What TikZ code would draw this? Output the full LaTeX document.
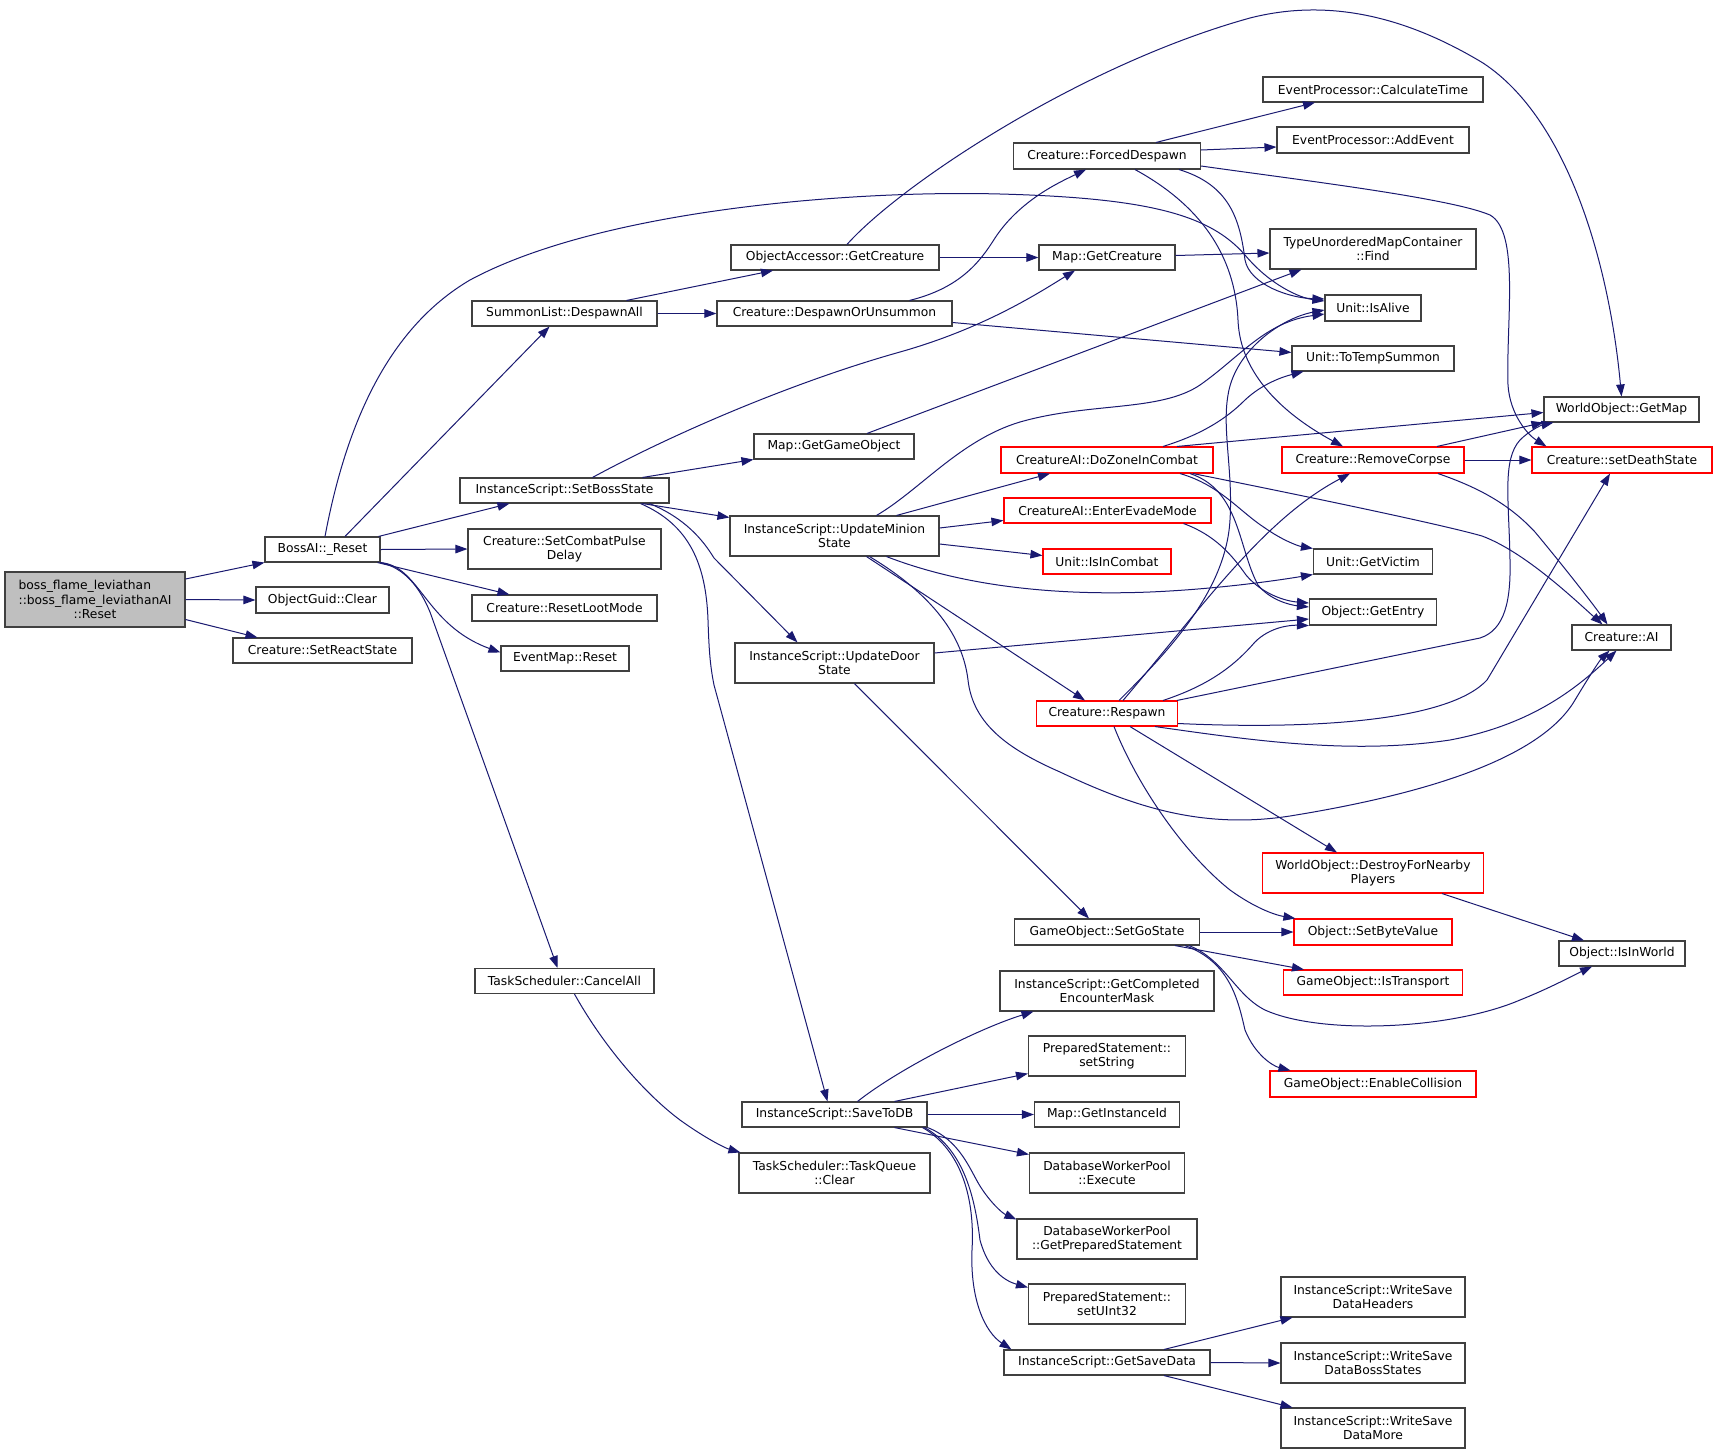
\documentclass[tikz,border=0pt]{standalone}
\usepackage{fontspec}
\setmainfont{DejaVu Sans}
\usepackage{calc}
\usetikzlibrary{arrows.meta}
\definecolor{edgec}{HTML}{191970}
\definecolor{boxc}{HTML}{404040}
\definecolor{mainfill}{HTML}{BFBFBF}
\newcommand\dgfont{\fontsize{12.3}{14.5}\selectfont}
\tikzset{
  box/.style={draw=boxc, line width=1.1pt, fill=white, inner sep=0pt, align=center, font=\dgfont},
  rbox/.style={box, draw=red},
  e/.style={draw=edgec, line width=1pt, -{Triangle[length=12pt,width=8.5pt]}},
}
\begin{document}
\begin{tikzpicture}[x=1pt,y=-1pt]
\useasboundingbox (0,0) rectangle (1717,1454);
\fill[white] (0,0) rectangle (1717,1454);
% column 1
\node[box,minimum width=180pt,minimum height=55pt,fill=mainfill] (main) at (95,599.5) {\makebox[\widthof{::boss\_flame\_leviathanAI}][l]{boss\_flame\_leviathan}\\::boss\_flame\_leviathanAI\\::Reset};
% column 2
\node[box,minimum width=115pt,minimum height=25pt] (reset) at (322.5,549.5) {BossAI::\_Reset};
\node[box,minimum width=133pt,minimum height=26pt] (guid) at (322.5,600) {ObjectGuid::Clear};
\node[box,minimum width=179pt,minimum height=25pt] (react) at (322.5,650.5) {Creature::SetReactState};
% column 3
\node[box,minimum width=185pt,minimum height=25pt] (despawnall) at (564.5,313.5) {SummonList::DespawnAll};
\node[box,minimum width=209pt,minimum height=25pt] (setboss) at (564.5,490.5) {InstanceScript::SetBossState};
\node[box,minimum width=193pt,minimum height=40pt] (pulse) at (564.5,549) {Creature::SetCombatPulse\\Delay};
\node[box,minimum width=185pt,minimum height=26pt] (loot) at (564.5,608) {Creature::ResetLootMode};
\node[box,minimum width=128pt,minimum height=25pt] (evmap) at (565,658.5) {EventMap::Reset};
\node[box,minimum width=179pt,minimum height=25pt] (cancel) at (564.5,981) {TaskScheduler::CancelAll};
% column 4
\node[box,minimum width=208pt,minimum height=25pt] (oagetc) at (835,257.5) {ObjectAccessor::GetCreature};
\node[box,minimum width=235pt,minimum height=25pt] (despunsum) at (834.5,313.5) {Creature::DespawnOrUnsummon};
\node[box,minimum width=160pt,minimum height=25pt] (getgo) at (834,446.5) {Map::GetGameObject};
\node[box,minimum width=209pt,minimum height=40pt] (minion) at (834.5,536) {InstanceScript::UpdateMinion\\State};
\node[box,minimum width=199pt,minimum height=40pt] (door) at (834.5,663) {InstanceScript::UpdateDoor\\State};
\node[box,minimum width=185pt,minimum height=25pt] (savedb) at (834.5,1114.5) {InstanceScript::SaveToDB};
\node[box,minimum width=191pt,minimum height=40pt] (tqclear) at (834.5,1173) {TaskScheduler::TaskQueue\\::Clear};
% column 5
\node[box,minimum width=187pt,minimum height=26pt] (forced) at (1107,156) {Creature::ForcedDespawn};
\node[box,minimum width=136pt,minimum height=25pt] (mapgetc) at (1107,257.5) {Map::GetCreature};
\node[rbox,minimum width=212pt,minimum height=26pt] (zone) at (1107,460) {CreatureAI::DoZoneInCombat};
\node[rbox,minimum width=207pt,minimum height=25pt] (evade) at (1107.5,510.5) {CreatureAI::EnterEvadeMode};
\node[rbox,minimum width=128pt,minimum height=25pt] (incombat) at (1107,561.5) {Unit::IsInCombat};
\node[rbox,minimum width=141pt,minimum height=25pt] (respawn) at (1107,713.5) {Creature::Respawn};
\node[box,minimum width=185pt,minimum height=26pt] (setgo) at (1107,932) {GameObject::SetGoState};
\node[box,minimum width=214pt,minimum height=40pt] (compl) at (1107,991) {InstanceScript::GetCompleted\\EncounterMask};
\node[box,minimum width=157pt,minimum height=40pt] (setstr) at (1107,1056) {PreparedStatement::\\setString};
\node[box,minimum width=145pt,minimum height=25pt] (instid) at (1107,1114.5) {Map::GetInstanceId};
\node[box,minimum width=155pt,minimum height=40pt] (exec) at (1107,1173) {DatabaseWorkerPool\\::Execute};
\node[box,minimum width=180pt,minimum height=40pt] (getprep) at (1107,1239) {DatabaseWorkerPool\\::GetPreparedStatement};
\node[box,minimum width=157pt,minimum height=40pt] (setuint) at (1107,1304) {PreparedStatement::\\setUInt32};
\node[box,minimum width=206pt,minimum height=25pt] (getsave) at (1107,1362.5) {InstanceScript::GetSaveData};
% column 6
\node[box,minimum width=220pt,minimum height=25pt] (calc) at (1373,89.5) {EventProcessor::CalculateTime};
\node[box,minimum width=192pt,minimum height=26pt] (addev) at (1373,140) {EventProcessor::AddEvent};
\node[box,minimum width=206pt,minimum height=40pt] (find) at (1373,249) {TypeUnorderedMapContainer\\::Find};
\node[box,minimum width=96pt,minimum height=26pt] (isalive) at (1373,308) {Unit::IsAlive};
\node[box,minimum width=162pt,minimum height=25pt] (totemp) at (1373,358.5) {Unit::ToTempSummon};
\node[rbox,minimum width=182pt,minimum height=26pt] (corpse) at (1373,460) {Creature::RemoveCorpse};
\node[box,minimum width=119pt,minimum height=25pt] (victim) at (1373,561.5) {Unit::GetVictim};
\node[box,minimum width=127pt,minimum height=26pt] (entry) at (1373,612) {Object::GetEntry};
\node[rbox,minimum width=221pt,minimum height=40pt] (destroy) at (1373,873) {WorldObject::DestroyForNearby\\Players};
\node[rbox,minimum width=158pt,minimum height=26pt] (sbv) at (1373,932) {Object::SetByteValue};
\node[rbox,minimum width=179pt,minimum height=25pt] (istrans) at (1373,982.5) {GameObject::IsTransport};
\node[rbox,minimum width=206pt,minimum height=26pt] (enable) at (1373,1084) {GameObject::EnableCollision};
\node[box,minimum width=184pt,minimum height=40pt] (wsdh) at (1373,1297) {InstanceScript::WriteSave\\DataHeaders};
\node[box,minimum width=184pt,minimum height=40pt] (wsdbs) at (1373,1363) {InstanceScript::WriteSave\\DataBossStates};
\node[box,minimum width=184pt,minimum height=40pt] (wsdm) at (1373,1428) {InstanceScript::WriteSave\\DataMore};
% column 7
\node[box,minimum width=155pt,minimum height=25pt] (getmap) at (1621.5,409.5) {WorldObject::GetMap};
\node[rbox,minimum width=180pt,minimum height=26pt] (death) at (1622,460) {Creature::setDeathState};
\node[box,minimum width=99pt,minimum height=25pt] (ai) at (1621.5,637.5) {Creature::AI};
\node[box,minimum width=126pt,minimum height=25pt] (isinworld) at (1622,953.5) {Object::IsInWorld};

% edges
\draw[e] ([yshift=20.5pt]main.east) -- (reset.south west);
\draw[e] (main.east) -- (guid.west);
\draw[e] ([yshift=-20pt]main.east) -- ([xshift=25pt]react.north west);
\draw[e] ([xshift=2.5pt]reset.north) .. controls (345,430) and (385,330) .. (470,280) .. controls (600,210) and (850,190) .. (1000,194) .. controls (1150,198) and (1210,215) .. (1245,255) .. controls (1270,285) and (1300,298) .. ([yshift=7pt]isalive.west);
\draw[e] ([xshift=22.5pt]reset.north) -- ([xshift=-15pt]despawnall.south);
\draw[e] ([xshift=-2pt]reset.north east) -- ([xshift=-55pt]setboss.south);
\draw[e] (reset.east) -- (pulse.west);
\draw[e] ([xshift=-3pt]reset.south east) -- ([xshift=38pt]loot.north west);
\draw[e] (reset.south east) .. controls (420,566) and (425,625) .. ([yshift=6pt]evmap.west);
\draw[e] (reset.south east) .. controls (405,568) and (420,588) .. (430,612) -- ([xshift=-7pt]cancel.north);
\draw[e] ([xshift=62pt]despawnall.north) -- ([xshift=-62pt]oagetc.south);
\draw[e] (despawnall.east) -- (despunsum.west);
\draw[e] ([xshift=12pt]oagetc.north) .. controls (900,185) and (1080,65) .. (1250,18) .. controls (1340,-5) and (1420,25) .. (1483,63) .. controls (1570,120) and (1610,270) .. (getmap.north);
\draw[e] (oagetc.east) -- (mapgetc.west);
\draw[e] ([xshift=75pt]despunsum.north) .. controls (960,288) and (980,262) .. (995,238) .. controls (1020,200) and (1060,182) .. ([xshift=-21pt]forced.south);
\draw[e] ([yshift=-9pt]despunsum.east) -- ([yshift=6pt]totemp.west);
\draw[e] ([yshift=2pt]mapgetc.east) -- ([yshift=-4pt]find.west);
\draw[e] ([xshift=49pt]forced.north) -- ([xshift=-58pt]calc.south);
\draw[e] ([yshift=6pt]forced.east) -- ([yshift=-7pt]addev.west);
\draw[e] ([yshift=-10pt]forced.east) .. controls (1300,180) and (1450,198) .. (1490,215) .. controls (1520,232) and (1506,320) .. (1508,385) .. controls (1510,415) and (1528,435) .. ([xshift=15pt]death.north west);
\draw[e] ([xshift=72pt]forced.south) .. controls (1230,185) and (1240,220) .. (1245,260) .. controls (1250,285) and (1290,298) .. ([yshift=9pt]isalive.west);
\draw[e] ([xshift=28pt]forced.south) .. controls (1200,205) and (1235,255) .. (1238,320) .. controls (1240,375) and (1285,415) .. ([xshift=-30pt]corpse.north);
\draw[e] ([xshift=28pt]setboss.north) .. controls (680,430) and (800,380) .. (900,352) .. controls (985,328) and (1040,292) .. ([xshift=-32pt]mapgetc.south);
\draw[e] ([xshift=78pt]setboss.north) -- (getgo.south west);
\draw[e] ([xshift=78pt]setboss.south) -- ([yshift=-2pt]minion.north west);
\draw[e] ([xshift=85pt]setboss.south) .. controls (685,518) and (703,540) .. (714,558) -- ([xshift=-37pt]door.north);
\draw[e] ([xshift=76pt]setboss.south) .. controls (690,525) and (706,565) .. (708,620) .. controls (709,650) and (710,665) .. (714,685) -- ([xshift=-7pt]savedb.north);
\draw[e] ([xshift=33pt]getgo.north) -- ([xshift=32pt]find.south west);
\draw[e] ([xshift=42pt]minion.north) .. controls (920,490) and (960,440) .. (1020,422) .. controls (1090,402) and (1160,412) .. (1200,385) .. controls (1240,357) and (1265,322) .. ([yshift=-6pt]isalive.west);
\draw[e] ([xshift=62pt]minion.north) -- ([xshift=-57pt]zone.south);
\draw[e] ([yshift=8pt]minion.east) -- ([yshift=-10pt]evade.west);
\draw[e] ([yshift=-8pt]minion.east) -- ([yshift=6pt]incombat.west);
\draw[e] ([xshift=52pt]minion.south) .. controls (960,585) and (1050,596) .. (1150,592) .. controls (1220,589) and (1280,580) .. (victim.south west);
\draw[e] ([xshift=32pt]minion.south) -- ([xshift=-22pt]respawn.north);
\draw[e] ([xshift=35pt]minion.south) .. controls (925,590) and (962,630) .. (968,680) .. controls (973,725) and (1010,750) .. (1060,772) .. controls (1130,805) and (1200,830) .. (1290,816) .. controls (1420,795) and (1540,760) .. (1575,700) .. controls (1590,675) and (1600,660) .. ([xshift=-12pt]ai.south);
\draw[e] ([xshift=56pt]zone.north) .. controls (1200,435) and (1225,420) .. (1245,400) .. controls (1262,384) and (1282,377) .. ([xshift=12pt]totemp.south west);
\draw[e] ([xshift=70pt]zone.north) -- ([yshift=-3pt]getmap.west);
\draw[e] ([xshift=73pt]zone.south) .. controls (1220,485) and (1240,512) .. (1265,528) .. controls (1282,540) and (1298,546) .. (victim.north west);
\draw[e] ([xshift=83pt]zone.south) .. controls (1240,490) and (1238,548) .. (1258,585) .. controls (1270,600) and (1290,605) .. ([yshift=5pt]entry.west);
\draw[e] ([xshift=86pt]zone.south) .. controls (1300,495) and (1440,524) .. (1482,536) .. controls (1525,552) and (1575,600) .. ([xshift=-19pt]ai.north);
\draw[e] ([xshift=76pt]evade.south) .. controls (1215,535) and (1232,555) .. (1246,575) .. controls (1262,594) and (1285,601) .. ([yshift=9pt]entry.west);
\draw[e] ([xshift=64pt]corpse.north) -- (getmap.south west);
\draw[e] (corpse.east) -- (death.west);
\draw[e] ([xshift=65pt]corpse.south) .. controls (1480,488) and (1510,505) .. (1535,532) .. controls (1560,562) and (1590,600) .. ([xshift=-14pt]ai.north);
\draw[e] ([yshift=10pt]door.east) -- ([yshift=-7pt]entry.west);
\draw[e] ([xshift=20pt]door.south) -- ([xshift=-18pt]setgo.north);
\draw[e] ([xshift=12pt]respawn.north) .. controls (1170,650) and (1226,590) .. (1230,520) .. controls (1233,470) and (1222,430) .. (1228,395) .. controls (1235,350) and (1282,318) .. ([yshift=-2pt]isalive.west);
\draw[e] ([xshift=16pt]respawn.north) .. controls (1200,610) and (1262,520) .. ([xshift=-23pt]corpse.south);
\draw[e] ([xshift=56pt]respawn.north) .. controls (1210,685) and (1235,665) .. (1255,642) .. controls (1270,627) and (1290,625) .. (entry.south west);
\draw[e] ([xshift=70pt]respawn.north) -- (1480,638) .. controls (1505,630) and (1511,600) .. (1510,560) .. controls (1509,500) and (1502,460) .. (1520,440) .. controls (1530,430) and (1542,425) .. ([xshift=10pt]getmap.south west);
\draw[e] ([yshift=-10pt]respawn.east) .. controls (1320,730) and (1450,720) .. (1487,680) -- ([xshift=-12pt]death.south);
\draw[e] ([xshift=48pt]respawn.south) .. controls (1250,740) and (1350,755) .. (1450,740) .. controls (1530,725) and (1575,690) .. ([xshift=-5pt]ai.south);
\draw[e] ([xshift=23pt]respawn.south) -- ([xshift=-36pt]destroy.north);
\draw[e] ([xshift=7pt]respawn.south) .. controls (1135,780) and (1180,850) .. (1230,890) .. controls (1255,908) and (1275,915) .. ([xshift=2pt]sbv.north west);
\draw[e] ([xshift=69pt]destroy.south) -- ([xshift=-38pt]isinworld.north);
\draw[e] (setgo.east) -- (sbv.west);
\draw[e] ([xshift=68pt]setgo.south) -- ([xshift=21pt]istrans.north west);
\draw[e] ([xshift=82pt]setgo.south) .. controls (1225,960) and (1235,995) .. (1265,1010) .. controls (1320,1035) and (1450,1030) .. (1520,1000) .. controls (1550,988) and (1572,976) .. ([xshift=-30pt]isinworld.south);
\draw[e] ([xshift=78pt]setgo.south) .. controls (1230,962) and (1238,1000) .. (1245,1030) .. controls (1255,1055) and (1273,1066) .. ([xshift=21pt]enable.north west);
\draw[e] ([xshift=10pt]cancel.south) .. controls (600,1040) and (640,1090) .. (680,1120) .. controls (705,1138) and (725,1148) .. ([xshift=2pt]tqclear.north west);
\draw[e] ([xshift=23pt]savedb.north) .. controls (900,1068) and (980,1028) .. ([xshift=34pt]compl.south west);
\draw[e] ([xshift=60pt]savedb.north) -- ([yshift=3pt]setstr.south west);
\draw[e] (savedb.east) -- (instid.west);
\draw[e] ([xshift=60pt]savedb.south) -- ([yshift=-2pt]exec.north west);
\draw[e] (savedb.south east) .. controls (960,1140) and (970,1170) .. (980,1186) .. controls (990,1202) and (1002,1213) .. ([yshift=-1pt]getprep.north west);
\draw[e] ([xshift=-3pt]savedb.south east) .. controls (965,1150) and (975,1200) .. (980,1240) .. controls (988,1270) and (1005,1281) .. ([yshift=-4pt]setuint.north west);
\draw[e] ([xshift=-5pt]savedb.south east) .. controls (962,1150) and (975,1200) .. (972,1250) .. controls (970,1300) and (985,1332) .. ([xshift=8pt]getsave.north west);
\draw[e] ([xshift=57pt]getsave.north) -- ([xshift=12pt]wsdh.south west);
\draw[e] (getsave.east) -- (wsdbs.west);
\draw[e] ([xshift=57pt]getsave.south) -- ([xshift=12pt]wsdm.north west);
\end{tikzpicture}
\end{document}
